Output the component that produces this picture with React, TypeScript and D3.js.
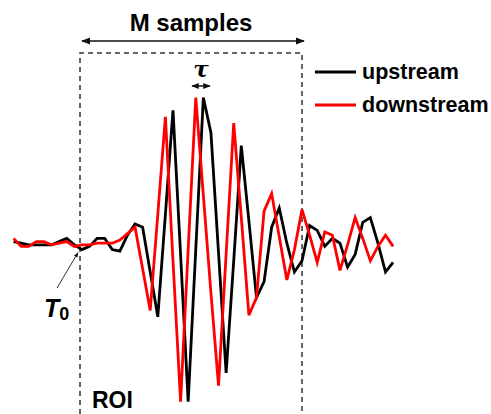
import React from "react";
import * as d3 from "d3";

// amplitude per sample (normalised), same sample grid for both traces
const upstream = [
  -0.01, -0.02, -0.03, -0.03, -0.03, -0.03, -0.01, 0.01, -0.03, -0.06,
  -0.04, 0.01, 0.01, -0.06, -0.07, 0.03, 0.1, 0.08, -0.2, -0.48,
  0.16, 0.81, -0.09, -1.01, -0.06, 0.89, 0.67, -0.08, -0.83, -0.13,
  0.59, 0.12, -0.36, -0.26, 0.08, 0.2, -0.02, -0.2, -0.13, 0.09,
  0.06, -0.04, 0.01, -0.02, -0.17, -0.09, 0.11, 0.14, -0.02, -0.2,
  -0.14,
];
const downstream = [
  0.01, -0.04, -0.04, -0.01, -0.01, -0.03, -0.02, -0.01, -0.04, -0.03,
  -0.03, -0.02, -0.02, -0.02, 0.0, 0.04, 0.08, -0.18, -0.44, 0.16,
  0.77, -0.13, -1.01, -0.06, 0.89, 0.28, -0.33, -0.91, -0.09, 0.73,
  0.14, -0.47, -0.36, 0.18, 0.29, 0.02, -0.25, -0.06, 0.19, 0.03,
  -0.14, 0.05, 0.03, -0.19, -0.03, 0.14, 0.01, -0.13, -0.04, 0.03,
  -0.04,
];
// region of interest, in samples
const roi = [8.75, 38];
const series = [
  { name: "upstream", color: "#000000", values: upstream },
  { name: "downstream", color: "#ff0000", values: downstream },
];

const W = 491;
const H = 414;
const font = "'Liberation Sans', Arial, sans-serif";

export default function App() {
  const x = d3.scaleLinear().domain([0, upstream.length - 1]).range([13.6, 393.1]);
  const y = d3.scaleLinear().domain([-1, 1]).range([400, 80]);

  const line = d3
    .line<number>()
    .x((_, i) => x(i))
    .y((d) => y(d));

  const boxL = x(roi[0]);
  const boxR = x(roi[1]);
  const boxTop = 53;
  const arrowY = 41;

  return (
    <svg
      width={W}
      height={H}
      style={{ position: "absolute", left: 0, top: 0, background: "#fff" }}
    >
      <defs>
        <marker id="ah" viewBox="0 0 10 10" refX="9" refY="5" markerWidth="6" markerHeight="6" orient="auto-start-reverse">
          <path d="M0,1 L10,5 L0,9 z" fill="#111" />
        </marker>
        <marker id="ahs" viewBox="0 0 10 10" refX="9" refY="5" markerWidth="5" markerHeight="5" orient="auto-start-reverse">
          <path d="M0,1 L10,5 L0,9 z" fill="#111" />
        </marker>
      </defs>

      {/* ROI box */}
      <path
        d={`M${boxL},${H} V${boxTop} H${boxR} V${H}`}
        fill="none"
        stroke="#333"
        strokeWidth={1.5}
        strokeDasharray="5,4"
      />

      {/* M samples */}
      <line
        x1={boxL + 2}
        x2={boxR + 2}
        y1={arrowY}
        y2={arrowY}
        stroke="#111"
        strokeWidth={1.5}
        markerStart="url(#ah)"
        markerEnd="url(#ah)"
      />
      <text x={(boxL + boxR) / 2} y={31} textAnchor="middle" fontFamily={font} fontWeight="bold" fontSize={24}>
        M samples
      </text>

      {/* traces */}
      {series.map((s) => (
        <path
          key={s.name}
          d={line(s.values) || ""}
          fill="none"
          stroke={s.color}
          strokeWidth={2.8}
          strokeLinejoin="miter"
        />
      ))}

      {/* tau */}
      <text x={201} y={77} textAnchor="middle" fontFamily="'DejaVu Serif', serif" fontStyle="italic" fontWeight="bold" fontSize={23}>
        τ
      </text>
      <line x1={192} x2={210} y1={86} y2={86} stroke="#111" strokeWidth={1.5} markerStart="url(#ahs)" markerEnd="url(#ahs)" />

      {/* legend */}
      {series.map((s, i) => (
        <g key={s.name} transform={`translate(315,${72 + i * 33})`}>
          <line x1={0} x2={41} y1={0} y2={0} stroke={s.color} strokeWidth={2.8} />
          <text x={47} y={7} fontFamily={font} fontWeight="bold" fontSize={21.5}>
            {s.name}
          </text>
        </g>
      ))}

      {/* T0 annotation */}
      <line x1={57} y1={288} x2={x(roi[0]) - 2} y2={y(upstream[9]) + 3} stroke="#333" strokeWidth={1} markerEnd="url(#ahs)" />
      <text x={44} y={317} fontFamily={font} fontWeight="bold" fontSize={25}>
        <tspan fontStyle="italic">T</tspan>
        <tspan fontSize={18} dy={3}>0</tspan>
      </text>

      <text x={92} y={408} fontFamily={font} fontWeight="bold" fontSize={23}>
        ROI
      </text>
    </svg>
  );
}
